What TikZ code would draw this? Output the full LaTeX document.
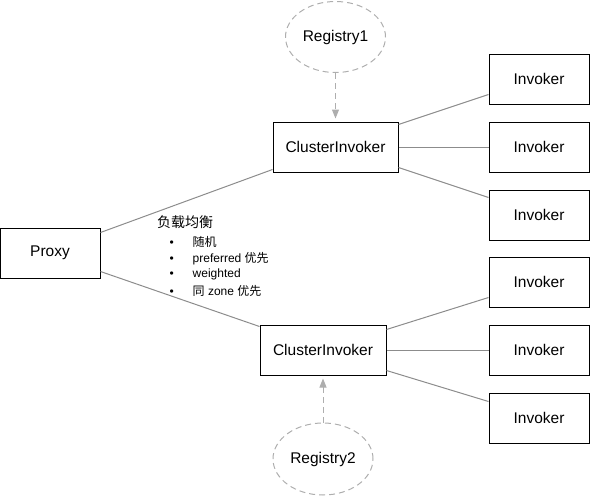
\documentclass[tikz,border=0pt]{standalone}
\usepackage{fontspec}
\setmainfont{Liberation Sans}
\newfontfamily\cjk{Noto Sans CJK SC}
\usetikzlibrary{positioning,shapes.geometric,arrows.meta}
\definecolor{linkgray}{HTML}{8C8C8C}
\definecolor{dashgray}{HTML}{AEAEAE}

\begin{document}
\begin{tikzpicture}[auto,node distance=68pt]
	\tikzstyle{box}=[rectangle,draw,line width=1pt,minimum height=50pt,inner sep=0pt,font=\fontsize{15.5pt}{18pt}\selectfont]
	\tikzstyle{invoker}=[box,minimum width=100pt]
	\tikzstyle{cluster}=[box,minimum width=125pt]
	\tikzstyle{registry}=[ellipse,draw=dashgray,line width=1pt,dash pattern=on 6pt off 4pt,minimum width=100pt,minimum height=71pt,inner sep=0pt,font=\fontsize{15.5pt}{18pt}\selectfont]
	\tikzstyle{link}=[draw=linkgray,line width=1pt]
	\tikzstyle{watch}=[draw=dashgray,line width=1pt,dash pattern=on 6pt off 4pt,-{Triangle[length=9pt,width=7pt]}]
	\tikzstyle{lbtitle}=[inner sep=0pt,anchor=west,font=\fontsize{14pt}{16pt}\selectfont\cjk]
	\tikzstyle{lbitem}=[inner sep=0pt,anchor=west,font=\fontsize{12pt}{14pt}\selectfont]
	\useasboundingbox (0,0) rectangle (590pt,-496pt);
		\node[invoker,minimum width=100pt] (proxy) at (50pt,-253pt) {Proxy};
		\node[cluster] (ci1) at (335.5pt,-147pt) {ClusterInvoker};
		\node[cluster,minimum width=126pt] (ci2) at (323pt,-350pt) {ClusterInvoker};
		\node[registry] (reg1) [node distance=110pt,above of=ci1] {Registry1};
		\node[registry,minimum height=72pt] (reg2) [node distance=109pt,below of=ci2] {Registry2};
		\node[invoker] (inv2) [node distance=203.5pt,right of=ci1] {Invoker};
		\node[invoker] (inv1) [above of=inv2] {Invoker};
		\node[invoker] (inv3) [below of=inv2] {Invoker};
		\node[invoker] (inv5) [node distance=216pt,right of=ci2] {Invoker};
		\node[invoker] (inv4) [above of=inv5] {Invoker};
		\node[invoker] (inv6) [below of=inv5] {Invoker};
		% load balancing note
		\node[lbtitle] (lb) at (157pt,-222pt) {负载均衡};
		\foreach \t [count=\i] in {{{\cjk 随机}},{preferred {\cjk 优先}},{weighted},{{\cjk 同} zone {\cjk 优先}}}
			\node[lbitem] (item\i) at (169.5pt,-225.5pt-16.4pt*\i) {\makebox[23pt][l]{\textbullet}\t};
			\draw[link] ([yshift=-5pt]proxy.north east) -- ([yshift=3pt]ci1.south west);
			\draw[link] ([yshift=7pt]proxy.south east) -- ([yshift=-2pt]ci2.north west);
			\draw[link] ([yshift=-3pt]ci1.north east) -- ([yshift=10pt]inv1.south west);
			\draw[link] (ci1) -- (inv2);
			\draw[link] ([yshift=5pt]ci1.south east) -- ([yshift=-8pt]inv3.north west);
			\draw[link] ([yshift=-5pt]ci2.north east) -- ([yshift=10pt]inv4.south west);
			\draw[link] (ci2) -- (inv5);
			\draw[link] ([yshift=5pt]ci2.south east) -- ([yshift=-9pt]inv6.north west);
			\draw[watch] (reg1) -- ([yshift=3pt]ci1.north);
			\draw[watch] (reg2) -- ([yshift=-3pt]ci2.south);
\end{tikzpicture}
\end{document}
